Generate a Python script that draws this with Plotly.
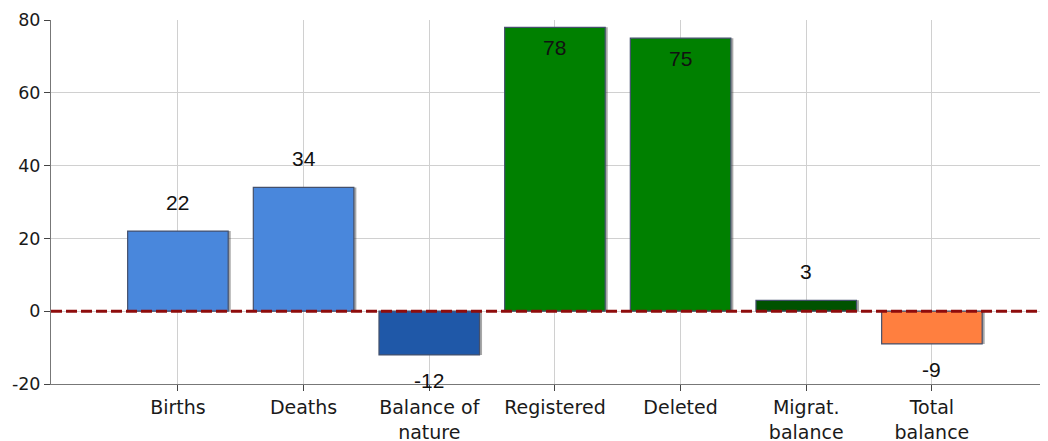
import plotly.graph_objects as go

categories = ["Births", "Deaths", "Balance of nature", "Registered", "Deleted", "Migrat. balance", "Total balance"]
tick_labels = ["Births", "Deaths", "Balance of<br>nature", "Registered", "Deleted", "Migrat.<br>balance", "Total<br>balance"]
values = [22, 34, -12, 78, 75, 3, -9]
colors = ["#4987DC", "#4987DC", "#1F58A8", "#008000", "#008000", "#005200", "#FF7F3F"]
inside_labels = [False, False, False, True, True, False, False]
y_ticks = [-20, 0, 20, 40, 60, 80]
y_tick_text = ["-20", "0", "20", "40", "60", "80"]

FONT = "DejaVu Sans, Verdana, sans-serif"
LABEL_FONT = "Liberation Sans, Arial, sans-serif"

fig = go.Figure()
# soft drop shadow on the right side of each bar
fig.add_trace(go.Bar(
    x=categories, y=values, width=0.8, offset=-0.38,
    marker=dict(color="rgba(60,60,60,0.45)", line=dict(width=0)),
    hoverinfo="skip", showlegend=False,
))
fig.add_trace(go.Bar(
    x=categories, y=values, width=0.8, offset=-0.4,
    marker=dict(color=colors, line=dict(color="#44506C", width=1.2)),
    hoverinfo="x+y", showlegend=False,
))

for c, v, ins in zip(categories, values, inside_labels):
    if v >= 0:
        shift = -20 if ins else 29
    else:
        shift = -26
    fig.add_annotation(x=c, y=v, text=str(v), showarrow=False, yshift=shift,
                       yanchor="middle", font=dict(family=LABEL_FONT, size=21, color="#111111"))

fig.add_shape(type="line", xref="paper", x0=0, x1=1, yref="y", y0=0, y1=0,
              line=dict(color="#8E0C0C", width=3, dash="11px,4px"), layer="above")

# the page body adds an 8px offset, so the figure is sized/margined to compensate
fig.update_layout(
    width=1040, height=433,
    margin=dict(l=43, r=3, t=12, b=57, autoexpand=False),
    paper_bgcolor="white", plot_bgcolor="white",
    font=dict(family=FONT, size=18, color="#1a1a1a"),
    barmode="overlay",
)
fig.update_xaxes(
    tickvals=categories, ticktext=tick_labels, range=[-1.01, 6.9],
    showgrid=True, gridcolor="#D0D0D0", gridwidth=1,
    showline=True, linecolor="#777777", linewidth=1,
    ticks="outside", ticklen=6, tickcolor="#444444",
    tickfont=dict(size=19), zeroline=False, automargin=False,
)
fig.update_yaxes(
    range=[-20, 80], tickvals=y_ticks, ticktext=y_tick_text,
    showgrid=True, gridcolor="#D0D0D0", gridwidth=1,
    showline=True, linecolor="#777777", linewidth=1,
    ticks="outside", ticklen=6, tickcolor="#444444",
    tickfont=dict(size=17.5), zeroline=False, automargin=False,
)

fig.write_html("out.html")
